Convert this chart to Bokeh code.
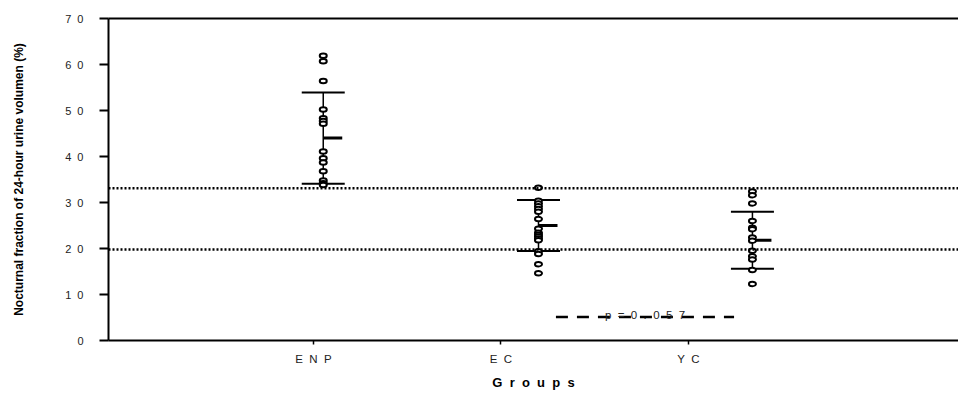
from bokeh.plotting import figure
from bokeh.models import Range1d, FixedTicker, Span, Label, Title, LinearAxis
from bokeh.embed import file_html
from bokeh.resources import INLINE

NB = "\u00a0 "  # non-collapsing wide gap used by the reference's letter spacing

# ---------------- data ----------------
groups = ["ENP", "EC", "YC"]
group_ticks = [1, 2, 3]
group_tick_labels = [NB.join("ENP"), NB.join("EC"), NB.join("YC")]
group_x = [1.052, 2.2, 3.341]

enp_values = [61.9, 60.7, 56.4, 50.2, 48.3, 47.7, 47.1, 41.1, 39.6, 38.7, 36.8, 34.8, 34.2, 33.8]
ec_values = [33.2, 30.4, 29.8, 29.2, 28.6, 28.0, 26.4, 24.3, 23.4, 23.0, 22.6, 22.2, 21.8, 19.4, 18.8, 16.6, 14.6]
yc_values = [32.4, 31.6, 29.8, 26.0, 24.5, 24.2, 22.4, 21.7, 19.5, 18.3, 17.6, 15.3, 12.3]

group_means = [44.0, 25.0, 21.8]
group_sds = [9.9, 5.55, 6.2]

reference_low = 19.8
reference_high = 33.1

p_text = NB.join("p=0.057")
p_line_x = [2.293, 3.243]
p_line_y = 5.1
p_text_y = 5.45

y_ticks = [0, 10, 20, 30, 40, 50, 60, 70]
y_tick_labels = [NB.join(str(t)) for t in y_ticks]

y_title = "Nocturnal fraction of 24-hour urine volumen (%)"
x_title = NB.join("Groups")

# ---------------- figure ----------------
FONT = "Liberation Sans"

p = figure(width=958, height=394, output_backend="svg", toolbar_location=None,
           x_range=Range1d(-0.0933, 4.44), y_range=Range1d(0, 70),
           min_border_left=108, min_border_right=0, min_border_top=18, min_border_bottom=0)
p.xgrid.visible = False
p.ygrid.visible = False
p.outline_line_color = None
p.background_fill_color = "white"
p.border_fill_color = "white"

# y axis
ya = p.yaxis[0]
ya.ticker = FixedTicker(ticks=y_ticks)
ya.major_label_overrides = {t: l for t, l in zip(y_ticks, y_tick_labels)}
ya.minor_tick_line_color = None
ya.major_tick_in = 0
ya.major_tick_out = 9
ya.major_tick_line_width = 2
ya.axis_line_width = 2
ya.axis_line_color = "black"
ya.major_tick_line_color = "black"
ya.major_label_text_font = FONT
ya.major_label_text_font_size = "11px"
ya.major_label_text_color = "#222222"
ya.major_label_standoff = 16
ya.axis_label = y_title
ya.axis_label_text_font = FONT
ya.axis_label_text_font_size = "12px"
ya.axis_label_text_font_style = "bold"
ya.axis_label_text_color = "black"
ya.axis_label_standoff = 36

# x axis
xa = p.xaxis[0]
xa.ticker = FixedTicker(ticks=group_ticks)
xa.major_label_overrides = {t: l for t, l in zip(group_ticks, group_tick_labels)}
xa.minor_tick_line_color = None
xa.major_tick_in = 0
xa.major_tick_out = 4
xa.major_tick_line_width = 1.5
xa.axis_line_width = 2
xa.axis_line_color = "black"
xa.major_tick_line_color = "black"
xa.major_label_text_font = FONT
xa.major_label_text_font_size = "11.5px"
xa.major_label_text_color = "#222222"
xa.major_label_standoff = 8

# top border drawn as a bare axis
top = LinearAxis(ticker=FixedTicker(ticks=[]), major_tick_out=0, major_tick_in=0,
                 minor_tick_out=0, minor_tick_in=0, major_label_text_font_size="0px",
                 axis_line_width=2, axis_line_color="black")
p.add_layout(top, "above")

# x title (offset to the left like the reference)
p.add_layout(Title(text=x_title, align="center", offset=-36, text_font=FONT,
                   text_font_size="13px", text_font_style="bold", text_color="black",
                   standoff=10), "below")

# reference (dotted) lines
for loc in (reference_high, reference_low):
    p.add_layout(Span(location=loc, dimension="width", line_color="black",
                      line_width=2.5, line_dash="2 2"))

# error bars
upper = [m + s for m, s in zip(group_means, group_sds)]
lower = [m - s for m, s in zip(group_means, group_sds)]
p.segment(x0=group_x, y0=lower, x1=group_x, y1=upper, line_color="black", line_width=1.5)
p.scatter(x=group_x + group_x, y=upper + lower, marker="dash", size=43,
          line_color="black", line_width=2)
p.ray(x=group_x, y=group_means, length=19, length_units="screen", angle=0,
      line_color="black", line_width=3)

# individual points
xs, ys = [], []
for gx, vals in zip(group_x, [enp_values, ec_values, yc_values]):
    xs += [gx] * len(vals)
    ys += vals
p.ellipse(x=xs, y=ys, width=7, height=4.5, width_units="screen", height_units="screen",
          fill_color="white", line_color="black", line_width=2)

# p value
p.line(x=p_line_x, y=[p_line_y, p_line_y], line_color="black", line_width=2.5, line_dash="12 9")
p.add_layout(Label(x=sum(p_line_x) / 2, y=p_text_y, text=p_text, text_align="center",
                   text_baseline="alphabetic", text_font=FONT, text_font_size="11.5px",
                   text_color="#222222"))

open("out.html", "w").write(file_html(p, INLINE))
